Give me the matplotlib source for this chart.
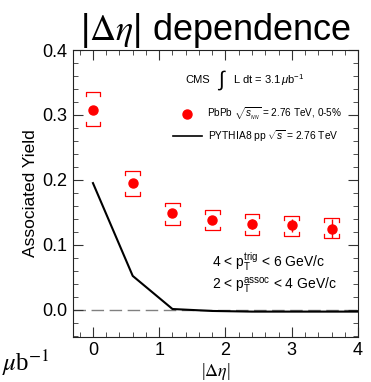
import matplotlib
matplotlib.use('Agg')
import matplotlib.pyplot as plt
from matplotlib.ticker import MultipleLocator, FormatStrFormatter

plt.rcParams['font.family'] = ['Liberation Sans', 'DejaVu Sans']
plt.rcParams['mathtext.fontset'] = 'custom'
plt.rcParams['mathtext.rm'] = 'Liberation Sans'
plt.rcParams['mathtext.it'] = 'Liberation Sans:italic'

# PbPb associated yield vs |delta eta|
deta = [0.0, 0.6, 1.2, 1.8, 2.4, 3.0, 3.6]
yield_pbpb = [0.308, 0.195, 0.149, 0.138, 0.132, 0.130, 0.125]
stat_err = [0.004, 0.004, 0.005, 0.006, 0.007, 0.010, 0.014]
syst_lo = [0.283, 0.175, 0.131, 0.122, 0.115, 0.114, 0.111]
syst_hi = [0.335, 0.213, 0.165, 0.153, 0.147, 0.144, 0.141]

# PYTHIA8 pp reference
deta_mc = [0.0, 0.6, 1.2, 1.8, 2.4, 3.0, 3.6, 4.2]
yield_mc = [0.195, 0.052, 0.001, -0.002, -0.003, -0.003, -0.003, -0.003]

fig = plt.figure(figsize=(3.71, 3.82), dpi=100)
ax = fig.add_axes([0.197, 0.118, 0.768, 0.751])

ax.axhline(0, color='#808080', lw=1.0, dashes=(9, 4), zorder=1)
ax.plot(deta_mc, yield_mc, color='black', lw=1.5, zorder=2)

# systematic brackets
hw, cap = 0.11, 0.006
for x, lo, hi in zip(deta, syst_lo, syst_hi):
    ax.plot([x - hw, x - hw, x + hw, x + hw], [hi - cap, hi, hi, hi - cap],
            color='red', lw=0.9, zorder=3)
    ax.plot([x - hw, x - hw, x + hw, x + hw], [lo + cap, lo, lo, lo + cap],
            color='red', lw=0.9, zorder=3)

ax.errorbar(deta, yield_pbpb, yerr=stat_err, fmt='o', color='red',
            markersize=6.5, elinewidth=1.0, capsize=0, zorder=4)

ax.set_xlim(-0.3, 4.0)
ax.set_ylim(-0.042, 0.4)
ax.xaxis.set_major_locator(MultipleLocator(1))
ax.xaxis.set_minor_locator(MultipleLocator(0.2))
ax.yaxis.set_major_locator(MultipleLocator(0.1))
ax.yaxis.set_minor_locator(MultipleLocator(0.02))
ax.yaxis.set_major_formatter(FormatStrFormatter('%.1f'))
ax.tick_params(which='both', direction='in', top=True, right=True,
               labelsize=13, color='#333333')
ax.tick_params(which='major', length=7, width=0.8, pad=4)
ax.tick_params(which='minor', length=3.5, width=0.6)
for s in ax.spines.values():
    s.set_linewidth(0.8)
    s.set_color('#222222')

ax.set_ylabel('Associated Yield', fontsize=12.5, labelpad=3)
ax.set_xlabel(r'|$\Delta\eta$|', fontsize=13, labelpad=1,
              family=['Liberation Serif', 'DejaVu Serif'],
              math_fontfamily='stix')
ax.set_title(r'|$\Delta\eta$| dependence', fontsize=26, pad=6,
             math_fontfamily='stix')

# annotations inside the frame
ax.text(0.393, 0.895, 'CMS', transform=ax.transAxes, fontsize=8,
        va='center', ha='left')
ax.text(0.505, 0.895, r'$\int$', transform=ax.transAxes, fontsize=15,
        va='center', ha='left')
ax.text(0.561, 0.895, r'L dt = 3.1$\,\mu$b$^{-1}$', transform=ax.transAxes,
        fontsize=8, va='center', ha='left')

ax.plot([0.40], [0.777], 'o', color='red', markersize=6.5,
        transform=ax.transAxes, clip_on=False)
ax.text(0.47, 0.777, r'PbPb $\sqrt{s_{_{NN}}}$ = 2.76 TeV, 0-5%',
        transform=ax.transAxes, fontsize=7.2, va='center', ha='left')
ax.plot([0.351, 0.453], [0.70, 0.70], color='black', lw=1.2,
        transform=ax.transAxes)
ax.text(0.474, 0.70, r'PYTHIA8 pp $\sqrt{s}$ = 2.76 TeV',
        transform=ax.transAxes, fontsize=7.4, va='center', ha='left')

ax.text(0.488, 0.261, r'4 < p$_{\rm T}^{\rm trig}$ < 6 GeV/c',
        transform=ax.transAxes, fontsize=10, va='center', ha='left')
ax.text(0.488, 0.178, r'2 < p$_{\rm T}^{\rm assoc}$ < 4 GeV/c',
        transform=ax.transAxes, fontsize=10, va='center', ha='left')

# unit label at the lower-left corner
fig.text(0.006, 0.03, r'$\mu$b$^{-1}$', fontsize=18, ha='left',
         va='baseline', family=['Liberation Serif', 'DejaVu Serif'],
         math_fontfamily='stix')

fig.savefig('out.png', dpi=100)
